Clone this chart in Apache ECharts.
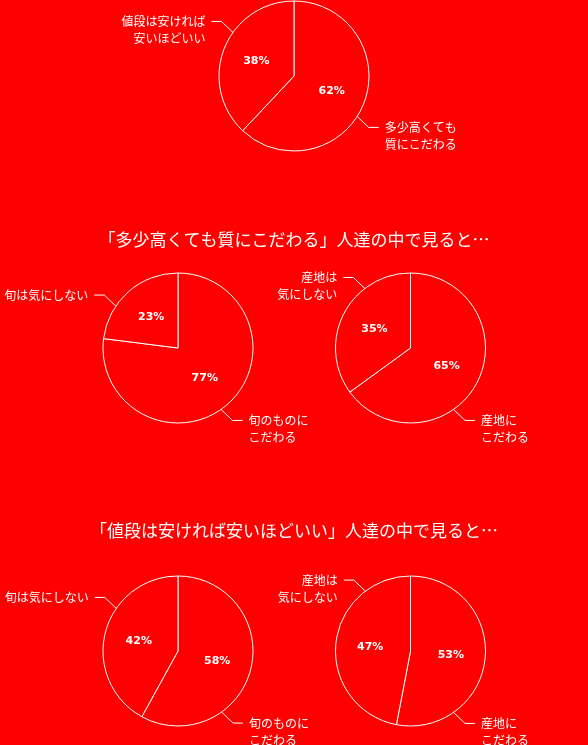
<!DOCTYPE html>
<html><head><meta charset="utf-8">
<script src="https://cdn.jsdelivr.net/npm/echarts@6/dist/echarts.min.js"></script>
<style>html,body{margin:0;padding:0;background:#ff0000;}#c{width:588px;height:745px;}</style>
</head><body><div id="c"></div>
<script>
// ---- data ----
const titles = ['「多少高くても質にこだわる」人達の中で見ると…', '「値段は安ければ安いほどいい」人達の中で見ると…'];
const overallNames = ['多少高くても\n質にこだわる', '値段は安ければ\n安いほどいい'];
const overallValues = [62, 38];
const seasonNames = ['旬のものに\nこだわる', '旬は気にしない'];
const originNames = ['産地に\nこだわる', '産地は\n気にしない'];
const qualitySeasonValues = [77, 23];
const qualityOriginValues = [65, 35];
const cheapSeasonValues = [58, 42];
const cheapOriginValues = [53, 47];

// ---- layout ----
const R = 75;
const FONT = '"Noto Sans CJK JP", "Noto Sans", sans-serif';
const pies = [
  { names: overallNames, values: overallValues, center: [294, 76], angles: [122.6, 305.5] },
  { names: seasonNames, values: qualitySeasonValues, center: [178, 348], angles: [145, 304] },
  { names: originNames, values: qualityOriginValues, center: [410.5, 348], angles: [145, 322.5] },
  { names: seasonNames, values: cheapSeasonValues, center: [178, 651], angles: [144.5, 304.6] },
  { names: originNames, values: cheapOriginValues, center: [410.5, 651], angles: [145, 323] }
];

function makeLayout(cx, cy, angles) {
  return function (p) {
    const a = angles[p.dataIndex] * Math.PI / 180;
    const x0 = cx + R * Math.sin(a), y0 = cy - R * Math.cos(a);
    const s = Math.sin(a) >= 0 ? 1 : -1;
    const x1 = x0 + s * 11.5, y1 = y0 + s * 11;
    const x2 = x1 + s * 10;
    return {
      x: x2 + s * 6,
      y: y1 - 8.5,
      align: s > 0 ? 'left' : 'right',
      verticalAlign: 'top',
      labelLinePoints: [[x0, y0], [x1, y1], [x2, y1]]
    };
  };
}

const series = [];
pies.forEach(function (pc) {
  const data = pc.names.map(function (n, i) { return { name: n, value: pc.values[i] }; });
  series.push({
    type: 'pie', center: pc.center, radius: R, silent: true,
    startAngle: 90, clockwise: true, avoidLabelOverlap: false,
    itemStyle: { color: '#ff0000', borderColor: '#ffffff', borderWidth: 1 },
    label: { show: true, position: 'inside', formatter: '{c}%', color: '#ffffff',
      fontSize: 11, fontWeight: 'bold', fontFamily: '"DejaVu Sans", sans-serif' },
    labelLine: { show: false },
    emphasis: { disabled: true },
    data: data
  });
  series.push({
    type: 'pie', center: pc.center, radius: R, silent: true, z: 3,
    startAngle: 90, clockwise: true, avoidLabelOverlap: false,
    itemStyle: { color: 'rgba(0,0,0,0)', borderWidth: 0 },
    label: { show: true, position: 'outside', formatter: '{b}', color: '#ffffff',
      fontSize: 12, lineHeight: 17, fontFamily: FONT },
    labelLine: { show: true, length: 14, length2: 10, lineStyle: { color: '#ffffff', width: 1 } },
    labelLayout: makeLayout(pc.center[0], pc.center[1], pc.angles),
    emphasis: { disabled: true },
    data: data
  });
});

const chart = echarts.init(document.getElementById('c'), null, { renderer: 'canvas' });
chart.setOption({
  backgroundColor: '#ff0000',
  animation: false,
  title: [
    { text: titles[0], left: 'center', top: 231, padding: 0,
      textStyle: { color: '#ffffff', fontSize: 17, fontWeight: 'normal', fontFamily: FONT } },
    { text: titles[1], left: 'center', top: 522, padding: 0,
      textStyle: { color: '#ffffff', fontSize: 17, fontWeight: 'normal', fontFamily: FONT } }
  ],
  series: series
});
</script>
</body></html>
